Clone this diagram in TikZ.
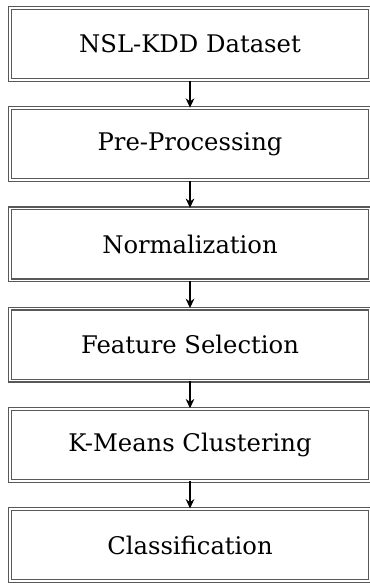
\documentclass[tikz,border=0pt]{standalone}
\usepackage{fontspec}
\setmainfont{DejaVu Serif}
\usetikzlibrary{positioning,arrows.meta}

\begin{document}
\begin{tikzpicture}[x=0.75pt,y=-0.75pt,
    stagebox/.style={draw=black!65, double, double distance=1.3pt, line width=0.85pt,
                     minimum width=270pt, minimum height=54pt, inner sep=0pt,
                     font=\fontsize{18.2}{21}\selectfont},
    flowarrow/.style={-{Stealth[length=7pt,width=6.5pt]}, line width=0.8pt}]
    \useasboundingbox (0,0) rectangle (369,583);
    %\draw [help lines] (0,0) grid (369,583);

    \node[stagebox] (dataset) at (190,44) {NSL-KDD Dataset};
    \node[stagebox, below=20.3pt of dataset] (preproc) {Pre-Processing};
    \node[stagebox, below=20.3pt of preproc] (norm) {Normalization};
    \node[stagebox, below=20.3pt of norm] (featsel) {Feature Selection};
    \node[stagebox, below=20.3pt of featsel] (kmeans) {K-Means Clustering};
    \node[stagebox, below=20.3pt of kmeans] (classif) {Classification};

    \draw[flowarrow] (dataset) -- (preproc);
    \draw[flowarrow] (preproc) -- (norm);
    \draw[flowarrow] (norm) -- (featsel);
    \draw[flowarrow] (featsel) -- (kmeans);
    \draw[flowarrow] (kmeans) -- (classif);
\end{tikzpicture}
\end{document}
